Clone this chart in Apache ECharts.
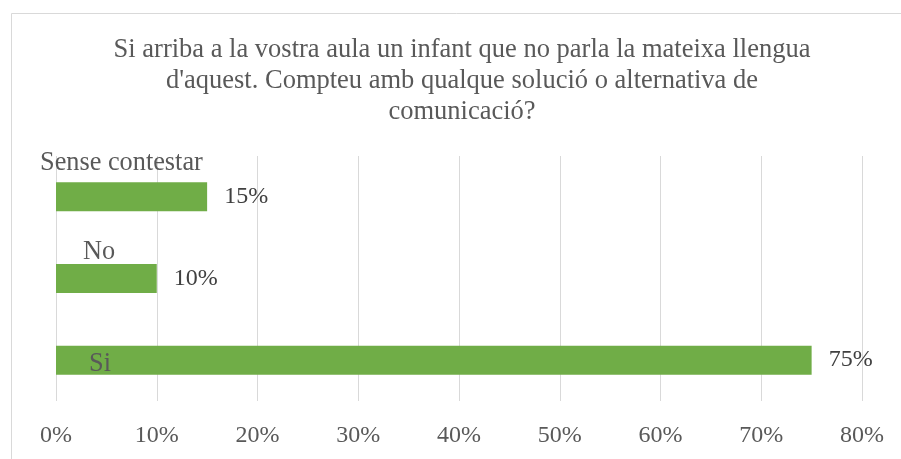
<!DOCTYPE html>
<html>
<head>
<meta charset="utf-8">
<script src="https://cdn.jsdelivr.net/npm/echarts@6/dist/echarts.min.js"></script>
<style>
html,body{margin:0;padding:0;background:#fff;}
#chart{width:901px;height:459px;}
</style>
</head>
<body>
<div id="chart"></div>
<script>
var titleText = "Si arriba a la vostra aula un infant que no parla la mateixa llengua\nd'aquest. Compteu amb qualque solució o alternativa de\ncomunicació?";
var categories = ["Si", "No", "Sense contestar"];
var values = [75, 10, 15];
var xTicks = [0, 10, 20, 30, 40, 50, 60, 70, 80];

var FONT = "'Liberation Serif','Times New Roman',serif";
// per-category label placement (px offsets from bar top-left)
var catLabelPos = [[33, 18], [27, -12], [-16, -19]];

var chart = echarts.init(document.getElementById('chart'), null, {renderer: 'canvas'});
chart.setOption({
  animation: false,
  backgroundColor: '#fff',
  graphic: [{
    type: 'rect', left: 9, top: 11, silent: true,
    shape: {width: 1000, height: 1000},
    style: {fill: 'none', stroke: '#d9d9d9', lineWidth: 1}
  }],
  title: {
    text: titleText,
    left: 457, top: 30,
    textAlign: 'center',
    textStyle: {fontFamily: FONT, fontSize: 26.5, fontWeight: 'normal', color: '#595959', lineHeight: 31}
  },
  grid: {left: 56, right: 39, top: 156, bottom: 58},
  xAxis: {
    type: 'value', min: xTicks[0], max: xTicks[xTicks.length - 1], interval: 10,
    axisLine: {show: false}, axisTick: {show: false},
    splitLine: {lineStyle: {color: '#d9d9d9', width: 1}},
    axisLabel: {formatter: function (v) { return v + '%'; }, fontFamily: FONT, fontSize: 24, color: '#595959', margin: 23}
  },
  yAxis: {
    type: 'category', data: categories,
    axisLine: {show: false}, axisTick: {show: false}, axisLabel: {show: false}
  },
  series: [{
    type: 'bar', data: values, barWidth: 29,
    itemStyle: {color: '#70AD47'},
    label: {show: true, position: 'right', distance: 17, formatter: '{c}%', fontFamily: FONT, fontSize: 24, color: '#404040'}
  }, {
    type: 'bar', barGap: '-100%', barWidth: 29, silent: true,
    itemStyle: {color: 'rgba(0,0,0,0)'},
    data: values.map(function (v, i) {
      return {value: v, label: {position: catLabelPos[i]}};
    }),
    label: {show: true, verticalAlign: 'middle', align: 'left', fontFamily: FONT, fontSize: 26.3, color: '#595959',
      formatter: function (p) { return categories[p.dataIndex]; }}
  }]
});
</script>
</body>
</html>
